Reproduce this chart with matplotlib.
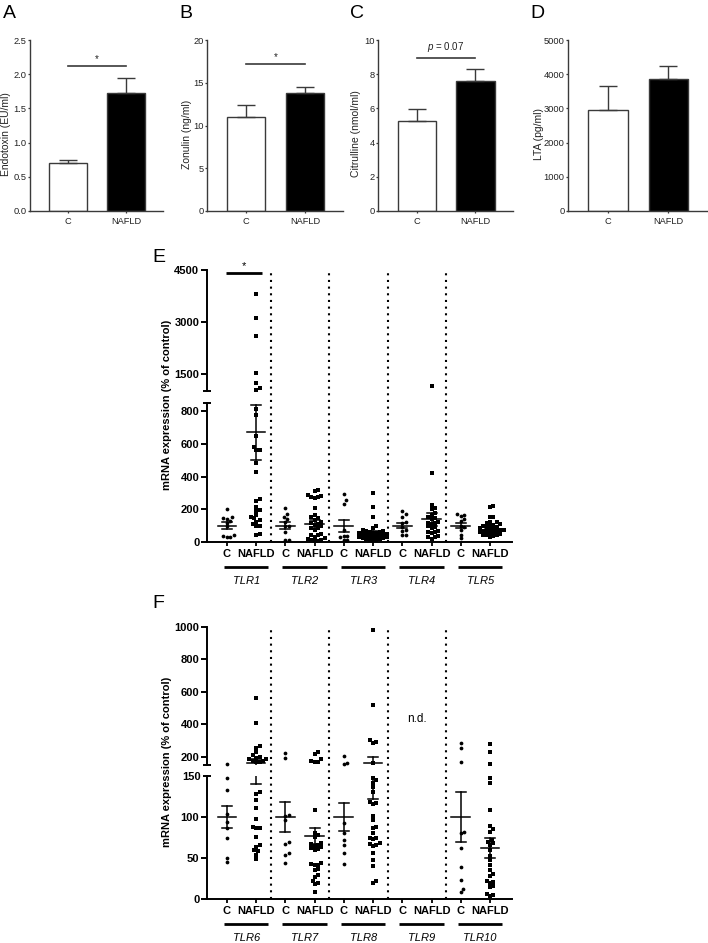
import numpy as np
import matplotlib
matplotlib.use("Agg")
import matplotlib.pyplot as plt
import matplotlib.transforms as mtransforms

plt.rcParams['font.family'] = ['Liberation Sans', 'DejaVu Sans']
plt.rcParams['mathtext.fontset'] = 'custom'
plt.rcParams['mathtext.it'] = 'Liberation Sans:italic'
plt.rcParams['mathtext.rm'] = 'Liberation Sans'

W, H = 708, 943

# ---------------- panels A-D (bar charts) ----------------
groups = ["C", "NAFLD"]
bar_ylabels = ["Endotoxin (EU/ml)", "Zonulin (ng/ml)", "Citrulline (nmol/ml)", "LTA (pg/ml)"]
endotoxin_mean = [0.70, 1.73]
endotoxin_sem = [0.05, 0.21]
zonulin_mean = [11.0, 13.75]
zonulin_sem = [1.4, 0.8]
citrulline_mean = [5.25, 7.6]
citrulline_sem = [0.7, 0.7]
lta_mean = [2950, 3870]
lta_sem = [700, 380]
bar_top = [2.5, 20, 10, 5000]
bar_step = [0.5, 5, 2, 1000]
bar_fmt = ["{:.1f}", "{:.0f}", "{:.0f}", "{:.0f}"]
sig_text = ["*", "*", "$p$ = 0.07", None]
sig_level = [2.12, 17.2, 8.95, None]

# ---------------- panels E/F (TLR mRNA) ----------------
tlr_E = ["TLR1", "TLR2", "TLR3", "TLR4", "TLR5"]
tlr1_c = [200, 150, 145, 140, 130, 118, 95, 40, 30, 28, 35]
tlr1_n = [3800, 3100, 2600, 1530, 1240, 1080, 1040, 812, 777, 649, 580, 563, 560, 485, 427,
          260, 250, 215, 195, 190, 165, 150, 145, 135, 125, 110, 100, 95, 50, 45]
tlr2_c = [210, 172, 155, 140, 120, 100, 95, 60, 15, 12]
tlr2_n = [320, 312, 285, 280, 278, 275, 272, 210, 165, 150, 145, 135, 125, 115, 110, 105, 95,
          88, 85, 75, 50, 45, 40, 30, 25, 20, 15, 10, 8, 5]
tlr3_c = [292, 255, 235, 75, 38, 35, 30, 15, 12]
tlr3_n = [298, 216, 155, 100, 85, 75, 70, 65, 62, 60, 58, 55, 52, 50, 48, 45, 42, 40, 38, 35,
          32, 30, 28, 25, 22, 20, 18, 15, 12, 10]
tlr4_c = [190, 170, 155, 125, 115, 90, 72, 68, 45, 42]
tlr4_n = [1140, 420, 226, 206, 200, 175, 165, 150, 145, 140, 120, 118, 115, 112, 95, 90, 88,
          65, 62, 60, 58, 35, 30, 28, 20]
tlr5_c = [172, 168, 160, 138, 130, 100, 90, 75, 45, 22]
tlr5_n = [220, 215, 155, 150, 125, 120, 118, 110, 105, 100, 95, 92, 90, 85, 80, 78, 75, 72, 70,
          68, 65, 60, 58, 55, 50, 45, 42, 40, 35, 30]
E_c_mean = [100, 100, 100, 100, 100]
E_c_sem = [20, 22, 37, 15, 15]
E_n_mean = [670, 112, 55, 140, 70]
E_n_sem = [166, 20, 12, 40, 9]

tlr_F = ["TLR6", "TLR7", "TLR8", "TLR9", "TLR10"]
tlr6_c = [157, 147, 133, 104, 94, 86, 75, 50, 45]
tlr6_n = [561, 411, 268, 254, 230, 210, 200, 195, 188, 185, 175, 172, 170, 168, 130, 128, 121,
          111, 98, 88, 87, 86, 76, 66, 64, 60, 58, 54, 49]
tlr7_c = [226, 192, 103, 101, 96, 69, 67, 56, 54, 44]
tlr7_n = [229, 218, 186, 172, 170, 168, 109, 81, 78, 76, 68, 67, 66, 65, 63, 62, 61, 60, 44, 43,
          42, 41, 36, 35, 29, 27, 22, 20, 18, 9]
tlr8_c = [206, 165, 155, 93, 81, 72, 66, 56, 43]
tlr8_n = [981, 520, 305, 294, 288, 160, 148, 145, 142, 136, 130, 118, 117, 116, 101, 96, 88, 86,
          80, 75, 74, 73, 68, 67, 66, 65, 56, 48, 40, 22, 20]
tlr9_c = []
tlr9_n = []
tlr10_c = [284, 257, 171, 82, 80, 62, 39, 23, 12, 8]
tlr10_n = [278, 233, 155, 148, 141, 109, 89, 85, 82, 72, 70, 68, 66, 60, 52, 47, 41, 35, 31, 28,
           22, 21, 20, 16, 15, 6, 5, 4]
F_c_mean = [100, 100, 100, None, 100]
F_c_sem = [13.5, 18, 17, None, 31]
F_n_mean = [162, 77, 160, None, 62]
F_n_sem = [22, 10, 38, None, 12]

fig = plt.figure(figsize=(W / 100, H / 100), dpi=100)


def px_axes(l, t, r, b):
    return fig.add_axes([l / W, 1 - b / H, (r - l) / W, (b - t) / H])


# ---- bar panels
bar_means = [endotoxin_mean, zonulin_mean, citrulline_mean, lta_mean]
bar_sems = [endotoxin_sem, zonulin_sem, citrulline_sem, lta_sem]
bar_boxes = [(30, 40, 163, 211), (207, 40, 343, 211), (378, 40, 513, 211), (568, 40, 707, 211)]
label_x = [-0.143, -0.11, -0.126, -0.172]
grey = "#3a3a3a"
for i in range(4):
    ax = px_axes(*bar_boxes[i])
    x = np.arange(2)
    ax.bar(x, bar_means[i], width=0.65, color=["white", "black"], edgecolor=grey,
           linewidth=1.0, zorder=2)
    ax.errorbar(x, bar_means[i], yerr=[[0, 0], bar_sems[i]], fmt="none", ecolor=grey,
                elinewidth=1.0, capsize=6.5, capthick=1.0, zorder=3)
    ax.set_xlim(-0.66, 1.64)
    ax.set_ylim(0, bar_top[i])
    ticks = np.arange(0, bar_top[i] + bar_step[i] / 2, bar_step[i])
    ax.set_yticks(ticks, [bar_fmt[i].format(t) for t in ticks])
    ax.set_xticks(x, groups)
    for s in ["top", "right"]:
        ax.spines[s].set_visible(False)
    for s in ["left", "bottom"]:
        ax.spines[s].set_color(grey)
        ax.spines[s].set_linewidth(1.0)
    ax.tick_params(colors=grey, labelcolor="#222222", labelsize=6.7, length=1.5, width=0.9,
                   pad=1)
    ax.tick_params(axis="x", pad=2.5)
    ax.set_ylabel(bar_ylabels[i], fontsize=7.5, color="#222222")
    ax.yaxis.set_label_coords(label_x[i], 0.45)
    if sig_text[i]:
        ax.plot([0, 1], [sig_level[i]] * 2, color=grey, lw=1.2)
        ax.annotate(sig_text[i], (0.5, sig_level[i]), xytext=(0, 1.5 if sig_text[i] == "*" else 3),
                    textcoords="offset points", ha="center", va="bottom",
                    fontsize=7, color="#222222")

for letter, xp in zip("ABCD", [3, 179, 350, 530]):
    fig.text(xp / W, 1 - 13 / H, letter, fontsize=14, ha="left", va="center")


# ---- TLR panels with broken y axes
def swarm(ypix, d):
    offs = np.zeros(len(ypix))
    placed = []
    cands = [0.0]
    for k in range(1, 40):
        cands += [k * d * 0.5, -k * d * 0.5]
    for i in np.argsort(ypix):
        y = ypix[i]
        for c in cands:
            if all((c - px) ** 2 + (y - py) ** 2 >= d * d for px, py in placed):
                break
        offs[i] = c
        placed.append((c, y))
    return offs


def style_seg(ax, major, major_lab, minor, minor_lab, bottom):
    ax.set_xlim(-0.68, 9.75)
    for s in ["top", "right"]:
        ax.spines[s].set_visible(False)
    ax.spines["left"].set_linewidth(1.4)
    ax.spines["bottom"].set_linewidth(1.4)
    ax.set_yticks(major, major_lab)
    ax.set_yticks(minor, minor_lab, minor=True)
    ax.tick_params(axis="y", which="major", length=4, width=1.4, labelsize=8, pad=1.5)
    ax.tick_params(axis="y", which="minor", direction="inout", length=6, width=1.4,
                   labelsize=8, pad=1.5)
    for t in ax.get_yticklabels(which="both"):
        t.set_fontweight("bold")
    if not bottom:
        ax.spines["bottom"].set_visible(False)
        ax.set_xticks([])


def tlr_panel(hi_box, lo_box, hi_lim, lo_lim, split, hi_ticks, lo_ticks, names, ctrl, nafld,
              c_mean, c_sem, n_mean, n_sem):
    ax_hi = px_axes(*hi_box)
    ax_lo = px_axes(*lo_box)
    ax_hi.set_ylim(*hi_lim)
    ax_lo.set_ylim(*lo_lim)
    style_seg(ax_hi, *hi_ticks, bottom=False)
    style_seg(ax_lo, *lo_ticks, bottom=True)
    ppu = ax_lo.transData.transform((1, 0))[0] - ax_lo.transData.transform((0, 0))[0]

    def seg(v):
        return ax_hi if v > split else ax_lo

    for g in range(len(names)):
        for j, (vals, mk) in enumerate([(ctrl[g], "o"), (nafld[g], "s")]):
            x0 = 2 * g + j
            if len(vals) == 0:
                continue
            vals = np.array(vals, float)
            ypix = np.array([seg(v).transData.transform((0, v))[1] for v in vals])
            offs = swarm(ypix, 3.4) / ppu
            for v, o in zip(vals, offs):
                seg(v).plot(x0 + o, v, ls="none", marker=mk, ms=2.7, color="k", mew=0,
                            clip_on=False, zorder=3)
            m = [c_mean, n_mean][j][g]
            s = [c_sem, n_sem][j][g]
            for ax in (ax_hi, ax_lo):
                ax.plot([x0 - 0.32, x0 + 0.32], [m, m], color="k", lw=1.1, zorder=4)
                ax.plot([x0, x0], [m - s, m + s], color="k", lw=1.1, zorder=4)
                for e in (m - s, m + s):
                    ax.plot([x0 - 0.17, x0 + 0.17], [e, e], color="k", lw=1.1, zorder=4)

    # dotted separators running through both segments
    top_frac = (lo_box[3] - hi_box[1]) / (lo_box[3] - lo_box[1])
    for g in range(len(names) - 1):
        ax_lo.axvline(2 * g + 1.5, ymin=0, ymax=top_frac, clip_on=False, color="k", lw=1.5,
                      dashes=(1, 2.2), zorder=1)

    ax_lo.set_xticks(np.arange(2 * len(names)), groups * len(names))
    ax_lo.tick_params(axis="x", length=3, width=1.3, labelsize=8, pad=2)
    for t in ax_lo.get_xticklabels():
        t.set_fontweight("bold")
    base = mtransforms.blended_transform_factory(ax_lo.transData, ax_lo.transAxes)
    under = base + mtransforms.ScaledTranslation(0, -25 / 100, fig.dpi_scale_trans)
    for g, name in enumerate(names):
        ax_lo.plot([2 * g - 0.1, 2 * g + 1.42], [0, 0], color="k", lw=2.0, transform=under,
                   clip_on=False, solid_capstyle="butt")
        ax_lo.annotate(name, (2 * g + 0.66, 0), xycoords=base, xytext=(0, -39 * 0.72),
                       textcoords="offset points", ha="center", va="center", fontsize=8,
                       fontstyle="italic")
    return ax_hi, ax_lo


E_hi, E_lo = tlr_panel((207, 270, 512, 391), (207, 403, 512, 542), (1000, 4500), (0, 850), 925,
                       ([1500, 3000, 4500], ["1500", "3000", "4500"], [1000], [""]),
                       ([0, 200, 400, 600, 800], ["0", "200", "400", "600", "800"], [850], [""]),
                       tlr_E, [tlr1_c, tlr2_c, tlr3_c, tlr4_c, tlr5_c],
                       [tlr1_n, tlr2_n, tlr3_n, tlr4_n, tlr5_n],
                       E_c_mean, E_c_sem, E_n_mean, E_n_sem)
E_hi.plot([-0.04, 1.2], [4420, 4420], color="k", lw=2.0, clip_on=False, solid_capstyle="butt")
E_hi.annotate("*", (0.58, 4420), xytext=(0, 1), textcoords="offset points", ha="center",
              va="bottom", fontsize=8, clip_on=False)

F_hi, F_lo = tlr_panel((207, 627, 512, 765), (207, 776, 512, 899), (150, 1000), (0, 150), 150,
                       ([200, 400, 600, 800, 1000], ["200", "400", "600", "800", "1000"], [150], [""]),
                       ([0, 50, 100], ["0", "50", "100"], [150], ["150"]),
                       tlr_F, [tlr6_c, tlr7_c, tlr8_c, tlr9_c, tlr10_c],
                       [tlr6_n, tlr7_n, tlr8_n, tlr9_n, tlr10_n],
                       F_c_mean, F_c_sem, F_n_mean, F_n_sem)
F_hi.text(6.5, 434, "n.d.", ha="center", va="center", fontsize=8.5)

for txt, yc in [("mRNA expression (% of control)", 405), ("mRNA expression (% of control)", 762)]:
    fig.text(167 / W, 1 - yc / H, txt, rotation=90, ha="center", va="center", fontsize=8,
             fontweight="bold")
fig.text(152 / W, 1 - 258 / H, "E", fontsize=14, ha="left", va="center")
fig.text(152 / W, 1 - 604 / H, "F", fontsize=14, ha="left", va="center")

fig.savefig("out.png", dpi=100)
